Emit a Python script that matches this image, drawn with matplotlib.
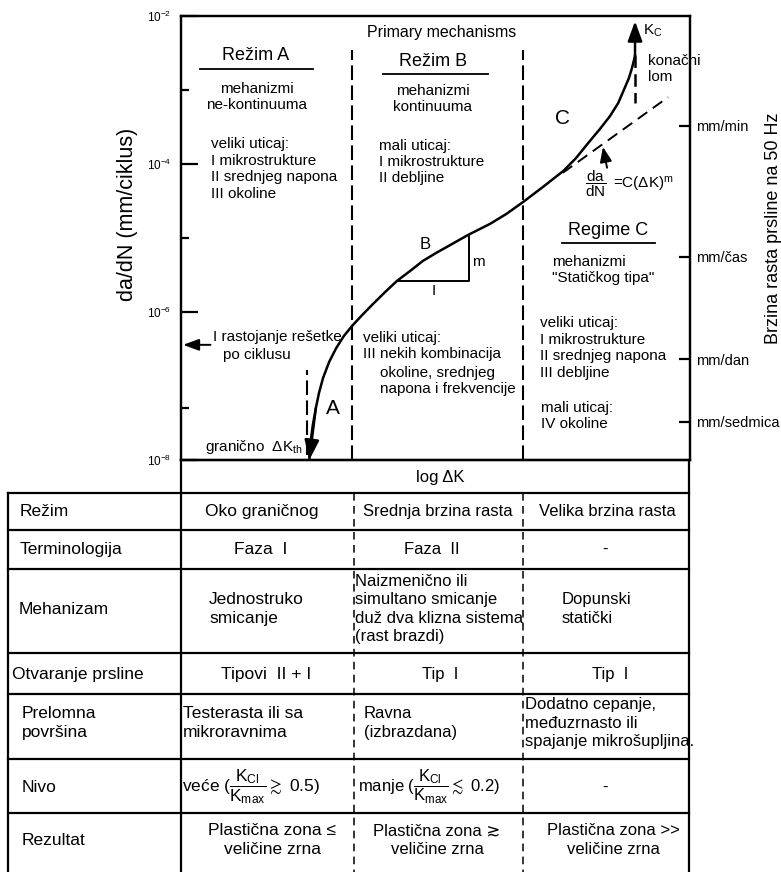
import matplotlib
matplotlib.use('Agg')
import matplotlib.pyplot as plt
from matplotlib.ticker import FixedLocator, NullFormatter, NullLocator

plt.rcParams['font.family'] = ['Liberation Sans', 'DejaVu Sans']
plt.rcParams['mathtext.fontset'] = 'custom'
plt.rcParams['mathtext.rm'] = 'Liberation Sans'
plt.rcParams['mathtext.it'] = 'Liberation Sans'
plt.rcParams['mathtext.sf'] = 'Liberation Sans'
plt.rcParams['mathtext.fallback'] = 'stixsans'

# crack growth curve, log dK (arbitrary units) vs da/dN (mm/ciklus)
dk = [2.52, 2.55, 2.59, 2.65, 2.71, 2.79, 2.91, 3.05, 3.20, 3.36, 3.56,
      3.77, 4.01, 4.24, 4.50, 4.75, 5.01, 5.29, 5.64, 6.07, 6.39, 6.72,
      7.11, 7.51, 7.76, 8.00, 8.23, 8.43, 8.59, 8.70, 8.80, 8.86, 8.90, 8.92]
rate = [1.0e-8, 1.86e-8, 2.97e-8, 5.05e-8, 8.0e-8, 1.28e-7, 2.11e-7, 3.26e-7,
        4.74e-7, 6.48e-7, 9.1e-7, 1.28e-6, 1.86e-6, 2.62e-6, 3.58e-6, 4.89e-6,
        6.27e-6, 8.04e-6, 1.10e-5, 1.55e-5, 2.11e-5, 3.06e-5, 4.89e-5, 8.04e-5,
        1.20e-4, 1.92e-4, 2.97e-4, 4.46e-4, 6.67e-4, 1.0e-3, 1.45e-3, 1.98e-3,
        2.54e-3, 2.97e-3]

# Paris law line and slope triangle
paris_dk = [7.50, 9.57]
paris_rate = [7.6e-5, 8.0e-4]
tri_dk = [4.24, 5.66]
tri_rate = [2.62e-6, 1.1e-5]

# regime boundaries, threshold, K_C
regime_dk = [3.36, 6.72]
regime_top = 3.5e-3
dk_th = 2.475
th_rate = [1.17e-8, 1.64e-7]
kc_rate = 8.5e-3
final_rate = 6.7e-4
lattice_rate = 3.6e-7

# axis ticks
major_ticks = [1e-2, 1e-4, 1e-6, 1e-8]
major_labels = ['$10^{-2}$', '$10^{-4}$', '$10^{-6}$', '$10^{-8}$']
minor_ticks = [1e-3, 1e-5, 5e-8]
speed_ticks = [3.3e-4, 5.6e-6, 2.3e-7, 3.3e-8]
speed_labels = ['mm/min', 'mm/čas', 'mm/dan', 'mm/sedmica']

# table
row_names = ['Režim', 'Terminologija', 'Mehanizam', 'Otvaranje prsline',
             'Prelomna\npovršina', 'Nivo', 'Rezultat']
col_a = ['Oko graničnog', 'Faza  I', 'Jednostruko\nsmicanje', 'Tipovi  II + I',
         'Testerasta ili sa\nmikroravnima',
         r'veće ($\dfrac{K_{Cl}}{K_{max}}\gtrsim$ 0.5)',
         'Plastična zona ≤\nveličine zrna']
col_b = ['Srednja brzina rasta', 'Faza  II',
         'Naizmenično ili\nsimultano smicanje\nduž dva klizna sistema\n(rast brazdi)',
         'Tip  I', 'Ravna\n(izbrazdana)',
         r'manje ($\dfrac{K_{Cl}}{K_{max}}\lesssim$ 0.2)',
         'Plastična zona ≳\nveličine zrna']
col_c = ['Velika brzina rasta', '-', 'Dopunski\nstatički', 'Tip  I',
         'Dodatno cepanje,\nmeđuzrnasto ili\nspajanje mikrošupljina.', '-',
         'Plastična zona >>\nveličine zrna']

W, H = 781, 872
fig = plt.figure(figsize=(W / 100, H / 100), dpi=100)


def box(x0, y0, x1, y1):
    return [x0 / W, 1 - y1 / H, (x1 - x0) / W, (y1 - y0) / H]


ax = fig.add_axes(box(181, 16, 690, 460))
ax.patch.set_visible(False)
ax.set_yscale('log')
ax.set_xlim(0, 10)
ax.set_ylim(1e-8, 1e-2)
ax.set_xticks([])
for s in ax.spines.values():
    s.set_linewidth(1.6)
ax.yaxis.set_major_locator(FixedLocator(major_ticks))
ax.set_yticklabels(major_labels)
ax.yaxis.set_minor_locator(FixedLocator(minor_ticks))
ax.yaxis.set_minor_formatter(NullFormatter())
ax.tick_params(axis='y', which='major', direction='in', length=12, width=1.6,
               labelsize=8.5, pad=7)
ax.tick_params(axis='y', which='minor', direction='in', length=6, width=1.6)

ax2 = ax.twinx()
ax2.set_yscale('log')
ax2.set_ylim(1e-8, 1e-2)
ax2.yaxis.set_major_locator(FixedLocator(speed_ticks))
ax2.set_yticklabels(speed_labels)
ax2.yaxis.set_minor_locator(NullLocator())
ax2.tick_params(axis='y', direction='in', length=8, width=1.6, labelsize=10.5, pad=4)
for s in ax2.spines.values():
    s.set_linewidth(1.6)

# main curve with arrows at both ends
ax.plot(dk, rate, color='black', lw=1.8, solid_capstyle='round',
        solid_joinstyle='round')
head = '-|>,head_length=0.6,head_width=0.22'
ax.annotate('', xy=(dk[0], rate[0]), xytext=(dk[3], rate[3]),
            arrowprops=dict(arrowstyle=head, color='black', lw=1.8,
                            mutation_scale=20, shrinkA=0, shrinkB=0))
ax.annotate('', xy=(dk[-1], kc_rate), xytext=(dk[-1], rate[-1]),
            arrowprops=dict(arrowstyle=head, color='black', lw=1.8,
                            mutation_scale=20, shrinkA=0, shrinkB=0))
ax.plot([dk[-1], dk[-1]], [rate[-1], final_rate], color='black', lw=1.8,
        dashes=(5, 2.5))

# Paris law extrapolation
ax.plot(paris_dk, paris_rate, color='black', lw=1.4, dashes=(6, 3.5))
ax.annotate('', xy=(8.29, 1.7e-4), xytext=(8.37, 8.9e-5),
            arrowprops=dict(arrowstyle='-|>,head_length=0.5,head_width=0.2',
                            color='black', lw=1.4, mutation_scale=18,
                            shrinkA=0, shrinkB=0))

# slope triangle
ax.plot([tri_dk[0], tri_dk[1], tri_dk[1]], [tri_rate[0], tri_rate[0], tri_rate[1]],
        color='black', lw=1.4)

# regime boundaries and threshold
for x in regime_dk:
    ax.plot([x, x], [1e-8, regime_top], color='black', lw=1.5, dashes=(7, 2.6))
ax.plot([dk_th, dk_th], th_rate, color='black', lw=1.5, dashes=(7, 2.6))

# lattice spacing arrow on the axis
ax.annotate('', xy=(0.004, lattice_rate), xytext=(0.058, lattice_rate),
            xycoords=('axes fraction', 'data'), textcoords=('axes fraction', 'data'),
            arrowprops=dict(arrowstyle='-|>,head_length=0.6,head_width=0.22',
                            color='black', lw=1.4, mutation_scale=16,
                            shrinkA=0, shrinkB=0))

# overlay in pixel units for labels and the table
ov = fig.add_axes([0, 0, 1, 1])
ov.set_xlim(0, W)
ov.set_ylim(H, 0)
ov.axis('off')
ov.patch.set_visible(False)


def t(x, y, s, size=11, ha='left', va='center', ls=1.22, **kw):
    ov.text(x, y, s, fontsize=size, ha=ha, va=va, linespacing=ls, **kw)


t(128, 214, 'da/dN (mm/ciklus)', size=15.5, ha='center', rotation=90)
t(773, 228, 'Brzina rasta prsline na 50 Hz', size=13, ha='center', rotation=90)

t(442, 33, 'Primary mechanisms', size=11.5, ha='center')
t(256, 56, 'Režim A', size=13, ha='center')
ov.plot([200, 313], [69, 69], color='black', lw=1.3)
t(257, 97, 'mehanizmi\nne-kontinuuma', ha='center')
t(211, 169, 'veliki uticaj:\nI mikrostrukture\nII srednjeg napona\nIII okoline')

t(433, 62, 'Režim B', size=13, ha='center')
ov.plot([383, 488], [74, 74], color='black', lw=1.3)
t(433, 99, 'mehanizmi\nkontinuuma', ha='center')
t(379, 162, 'mali uticaj:\nI mikrostrukture\nII debljine')
t(363, 346, 'veliki uticaj:\nIII nekih kombinacija')
t(380, 381, 'okoline, srednjeg\nnapona i frekvencije')

t(608, 230, 'Regime C', size=13, ha='center')
ov.plot([562, 655], [243, 243], color='black', lw=1.3)
t(552, 270, 'mehanizmi\n"Statičkog tipa"')
t(540, 348, 'veliki uticaj:\nI mikrostrukture\nII srednjeg napona\nIII debljine')
t(541, 416, 'mali uticaj:\nIV okoline')

t(563, 118, 'C', size=15, ha='center')
t(333, 408, 'A', size=15, ha='center')
t(425, 244, 'B', size=12, ha='center')
t(478, 262, 'm', size=11, ha='center')
t(434, 291, 'I', size=11, ha='center')

t(205, 447, r'granično  ΔK$_{th}$', size=11)
t(213, 337, 'I rastojanje rešetke', size=11)
t(223, 355, 'po ciklusu', size=11)
t(643, 31, r'K$_{C}$', size=11)
t(648, 69, 'konačni\nlom', size=11)
t(596, 184, r'$\dfrac{da}{dN}$', size=11, ha='center')
t(613, 184, r'=C(ΔK)$^{m}$', size=11)

t(440, 477, 'log ΔK', size=12, ha='center')

# table frame
rows_y = [493, 530, 569, 653, 694, 759, 813, 872]
lw_t = 1.6
for y in rows_y[:-1]:
    ov.plot([8, 689], [y, y], color='black', lw=lw_t)
ov.plot([181, 689], [460, 460], color='black', lw=lw_t)
ov.plot([8, 8], [493, 872], color='black', lw=lw_t)
ov.plot([181, 181], [460, 872], color='black', lw=lw_t)
ov.plot([689, 689], [460, 872], color='black', lw=lw_t)
for x in [354, 523]:
    ov.plot([x, x], [493, 872], color='black', lw=1.1, dashes=(5, 3.5))

row_mid = [511, 549, 609, 674, 723, 787, 840]
name_x = [20, 20, 19, 12, 22, 22, 22]
a_pos = [(262, 'center'), (261, 'center'), (209, 'left'), (266, 'center'),
         (183, 'left'), (182, 'left'), (272, 'center')]
b_pos = [(438, 'center'), (432, 'center'), (355, 'left'), (440, 'center'),
         (364, 'left'), (358, 'left'), (437, 'center')]
c_pos = [(607, 'center'), (605, 'center'), (562, 'left'), (610, 'center'),
         (525, 'left'), (605, 'center'), (613, 'center')]

for i, y in enumerate(row_mid):
    t(name_x[i], y, row_names[i], size=12.5, ls=1.28)
    t(a_pos[i][0], y, col_a[i], size=12.5, ha=a_pos[i][1], ma=a_pos[i][1], ls=1.28)
    t(b_pos[i][0], y, col_b[i], size=12, ha=b_pos[i][1], ma=b_pos[i][1], ls=1.28)
    t(c_pos[i][0], y, col_c[i], size=12, ha=c_pos[i][1], ma=c_pos[i][1], ls=1.28)

fig.savefig('out.png', dpi=100)
